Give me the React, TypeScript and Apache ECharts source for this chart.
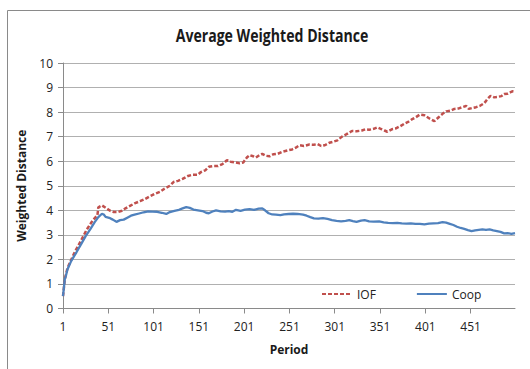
import React, { useEffect, useRef } from "react";
import * as echarts from "echarts";

// Period numbers and values for the IOF series
const iofPeriods = [1, 3, 6, 10, 14, 20, 27, 34, 39, 40, 44, 49, 53, 57, 62, 66, 70, 75, 80, 86, 91, 97, 102, 108, 113, 119, 123, 128, 133, 139, 144, 150, 153, 158, 162, 167, 172, 177, 182, 186, 191, 196, 200, 204, 207, 211, 214, 218, 221, 225, 229, 233, 238, 243, 249, 254, 258, 262, 267, 273, 278, 282, 286, 290, 295, 299, 304, 309, 314, 320, 325, 331, 335, 339, 344, 348, 353, 356, 359, 364, 368, 373, 378, 382, 386, 390, 395, 400, 403, 406, 411, 416, 420, 424, 429, 433, 438, 442, 446, 449, 453, 457, 461, 466, 470, 473, 477, 481, 485, 488, 492, 497, 500];
const iofValues = [0.5, 1.2, 1.65, 1.98, 2.3, 2.7, 3.2, 3.6, 3.8, 4.12, 4.2, 4.08, 3.98, 3.93, 3.93, 3.98, 4.08, 4.18, 4.28, 4.37, 4.45, 4.57, 4.66, 4.75, 4.88, 5.0, 5.15, 5.2, 5.28, 5.4, 5.45, 5.45, 5.55, 5.63, 5.77, 5.8, 5.8, 5.88, 6.04, 5.98, 5.95, 5.92, 5.95, 6.15, 6.25, 6.2, 6.15, 6.25, 6.3, 6.22, 6.2, 6.28, 6.3, 6.38, 6.44, 6.48, 6.55, 6.65, 6.62, 6.68, 6.67, 6.7, 6.62, 6.65, 6.75, 6.79, 6.85, 7.0, 7.1, 7.23, 7.22, 7.25, 7.3, 7.28, 7.32, 7.38, 7.3, 7.25, 7.2, 7.3, 7.33, 7.42, 7.53, 7.6, 7.7, 7.78, 7.9, 7.87, 7.8, 7.73, 7.63, 7.8, 7.93, 8.03, 8.06, 8.13, 8.15, 8.2, 8.25, 8.13, 8.17, 8.2, 8.25, 8.36, 8.55, 8.66, 8.6, 8.62, 8.65, 8.74, 8.75, 8.85, 8.83];

// Period numbers and values for the Coop series
const coopPeriods = [1, 3, 4, 6, 10, 16, 21, 26, 31, 36, 40, 44, 46, 48, 51, 53, 56, 60, 64, 68, 72, 76, 80, 85, 90, 95, 100, 105, 110, 115, 119, 124, 129, 133, 137, 141, 145, 150, 155, 159, 162, 166, 170, 175, 180, 184, 188, 192, 197, 202, 207, 212, 217, 221, 224, 228, 232, 236, 241, 245, 250, 255, 260, 266, 270, 274, 278, 283, 288, 293, 298, 303, 308, 313, 317, 321, 325, 330, 334, 339, 344, 350, 355, 360, 365, 370, 375, 380, 385, 390, 395, 400, 405, 410, 415, 420, 424, 428, 432, 436, 440, 444, 448, 452, 456, 460, 464, 468, 472, 476, 480, 484, 488, 492, 496, 500];
const coopValues = [0.5, 1.2, 1.3, 1.6, 1.93, 2.3, 2.62, 2.95, 3.22, 3.52, 3.72, 3.86, 3.83, 3.73, 3.7, 3.68, 3.62, 3.53, 3.6, 3.62, 3.7, 3.78, 3.82, 3.87, 3.92, 3.96, 3.95, 3.94, 3.9, 3.85, 3.93, 3.98, 4.02, 4.08, 4.13, 4.1, 4.03, 4.0, 3.97, 3.9, 3.88, 3.95, 4.0, 3.96, 3.95, 3.97, 3.94, 4.02, 3.98, 4.03, 4.05, 4.02, 4.07, 4.08, 4.0, 3.88, 3.83, 3.82, 3.8, 3.83, 3.85, 3.86, 3.85, 3.82, 3.78, 3.72, 3.67, 3.66, 3.68, 3.65, 3.6, 3.57, 3.55, 3.57, 3.6, 3.56, 3.53, 3.58, 3.6, 3.55, 3.54, 3.55, 3.51, 3.49, 3.48, 3.49, 3.47, 3.46, 3.47, 3.45, 3.45, 3.43, 3.46, 3.47, 3.48, 3.52, 3.5, 3.45, 3.4, 3.33, 3.28, 3.24, 3.19, 3.15, 3.18, 3.2, 3.22, 3.2, 3.22, 3.18, 3.15, 3.12, 3.06, 3.07, 3.04, 3.07];

const seriesNames = ["IOF", "Coop"];
const chartTitle = "Average Weighted Distance";
const FONT = "'Open Sans', sans-serif";

// The x axis runs on a zero-based offset (period - 1) so ticks land on 1, 51, 101, ...
const toPoints = (periods: number[], values: number[]) =>
  periods.map((p, i) => [p - 1, values[i]]);

export default function App() {
  const ref = useRef<HTMLDivElement>(null);

  useEffect(() => {
    if (!ref.current) return;
    const chart = echarts.init(ref.current, null, { renderer: "svg" });
    chart.setOption({
      animation: false,
      backgroundColor: "#ffffff",
      graphic: [
        {
          type: "rect",
          shape: { x: 7.5, y: 10.5, width: 560, height: 400 },
          style: { fill: "none", stroke: "#8a8a8a", lineWidth: 1 },
          silent: true,
        },
        {
          // condensed bold title
          type: "text",
          x: 272,
          y: 35,
          scaleX: 0.83,
          style: {
            text: chartTitle,
            font: `bold 17px ${FONT}`,
            fill: "#1a1a1a",
            align: "center",
            verticalAlign: "middle",
          },
          silent: true,
        },
      ],
      legend: {
        left: 321,
        top: 288,
        padding: 0,
        itemWidth: 30,
        itemHeight: 12,
        itemGap: 40,
        itemStyle: { opacity: 0 },
        textStyle: { fontFamily: FONT, fontSize: 12, color: "#222" },
        data: seriesNames,
      },
      grid: { left: 63, right: 15, top: 63, bottom: 60.5 },
      xAxis: {
        type: "value",
        min: 0,
        max: 499,
        interval: 50,
        name: "Period",
        nameLocation: "middle",
        nameGap: 35,
        nameTextStyle: { fontFamily: FONT, fontWeight: "bold", fontSize: 12, color: "#1a1a1a" },
        axisLine: { lineStyle: { color: "#8a8a8a" } },
        axisTick: { show: true, length: 5, lineStyle: { color: "#8a8a8a" } },
        axisLabel: {
          formatter: (v: number) => String(v + 1),
          showMaxLabel: false,
          fontFamily: FONT,
          fontSize: 12,
          color: "#222",
          margin: 12,
        },
        splitLine: { show: false },
      },
      yAxis: {
        type: "value",
        min: 0,
        max: 10,
        interval: 1,
        name: "Weighted Distance",
        nameLocation: "middle",
        nameGap: 36,
        nameRotate: 90,
        nameTextStyle: { fontFamily: FONT, fontWeight: "bold", fontSize: 12, color: "#1a1a1a" },
        axisLine: { show: true, lineStyle: { color: "#8a8a8a" } },
        axisTick: { show: true, length: 5, lineStyle: { color: "#8a8a8a" } },
        axisLabel: { fontFamily: FONT, fontSize: 12, color: "#222", margin: 10 },
        splitLine: { lineStyle: { color: "#b0b0b0", width: 1 } },
      },
      series: [
        {
          name: seriesNames[0],
          type: "line",
          data: toPoints(iofPeriods, iofValues),
          showSymbol: false,
          symbol: "none",
          color: "#C0504D",
          lineStyle: { color: "#C0504D", width: 2.5, type: [4, 2] },
          z: 2,
        },
        {
          name: seriesNames[1],
          type: "line",
          data: toPoints(coopPeriods, coopValues),
          showSymbol: false,
          symbol: "none",
          color: "#4F81BD",
          lineStyle: { color: "#4F81BD", width: 2.3 },
          z: 3,
        },
      ],
    });
    return () => chart.dispose();
  }, []);

  return (
    <div
      ref={ref}
      style={{ position: "fixed", left: 0, top: 0, width: 530, height: 369 }}
    />
  );
}
